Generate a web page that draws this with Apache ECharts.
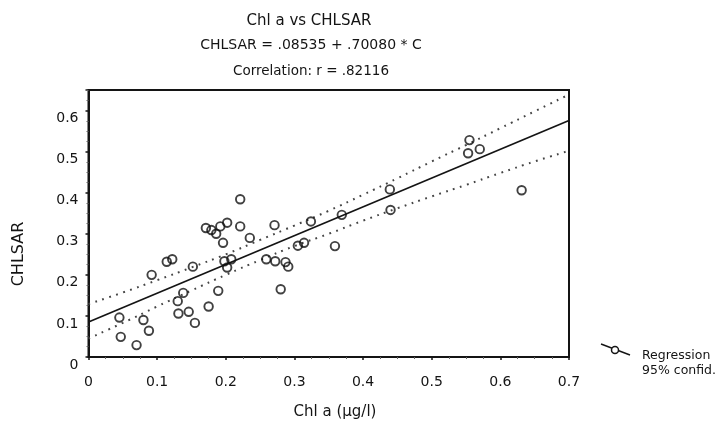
<!DOCTYPE html>
<html>
<head>
<meta charset="utf-8">
<script src="https://cdn.jsdelivr.net/npm/echarts@6/dist/echarts.min.js"></script>
<style>
html,body{margin:0;padding:0;background:#fff;}
#chart{width:722px;height:423px;}
</style>
</head>
<body>
<div id="chart"></div>
<script>
// ---- data ----
const chlA = [0.171,0.179,0.186,0.192,0.202,0.221,0.221,0.235,0.196,0.271,0.324,
  0.114,0.122,0.092,0.152,0.198,0.208,0.202,0.259,0.272,0.287,0.291,0.305,0.314,
  0.189,0.280,0.130,0.138,0.131,0.146,0.155,0.175,0.045,0.080,0.088,0.047,0.070,
  0.369,0.359,0.439,0.440,0.555,0.553,0.570,0.631];
const chlsar = [0.314,0.309,0.300,0.318,0.327,0.384,0.318,0.290,0.278,0.321,0.330,
  0.232,0.238,0.200,0.220,0.233,0.238,0.218,0.238,0.233,0.231,0.220,0.271,0.278,
  0.161,0.165,0.136,0.156,0.106,0.110,0.083,0.123,0.096,0.090,0.064,0.049,0.029,
  0.346,0.270,0.408,0.358,0.528,0.496,0.506,0.406];
const regX = [0, 0.7];
const regY = [0.0854, 0.5759];
const bandX = [0,0.05,0.1,0.15,0.2,0.25,0.3,0.35,0.4,0.45,0.5,0.55,0.6,0.65,0.7];
const bandUpper = [0.129,0.157,0.187,0.218,0.250,0.285,0.320,0.356,0.395,0.435,0.476,0.516,0.557,0.598,0.639];
const bandLower = [0.045,0.083,0.123,0.162,0.200,0.236,0.270,0.300,0.332,0.362,0.391,0.419,0.448,0.476,0.502];
const xTicks = ['0','0.1','0.2','0.3','0.4','0.5','0.6','0.7'];
const yTicks = ['0','0.1','0.2','0.3','0.4','0.5','0.6'];
const titleLines = ['Chl a vs CHLSAR','CHLSAR = .08535 + .70080 * C','Correlation: r = .82116'];
const legendLabels = ['Regression','95% confid.'];

const FONT = '"DejaVu Sans", "Liberation Sans", Arial, sans-serif';
const INK = '#141414';

const chart = echarts.init(document.getElementById('chart'), null, {renderer:'canvas'});

function tickLabel(list, pre){
  return function(v){
    const i = Math.round(v*10);
    if (Math.abs(v*10 - i) > 1e-6) return '';
    return list[i] !== undefined ? pre + list[i] : '';
  };
}

const option = {
  backgroundColor: '#fff',
  animation: false,
  grid: {left: 88.5, right: 153, top: 90, bottom: 66, show: true, borderColor: INK, borderWidth: 2, backgroundColor: 'transparent'},
  xAxis: [{
    type: 'value', min: 0, max: 0.7, interval: 0.1,
    axisLine: {show: true, onZero: false, lineStyle: {color: INK, width: 2}},
    axisTick: {show: true, inside: false, length: 3, lineStyle: {color: INK, width: 1.5}},
    minorTick: {show: true, splitNumber: 4, length: 2, lineStyle: {color: '#666'}},
    splitLine: {show: false},
    axisLabel: {formatter: tickLabel(xTicks, ''), color: INK, fontFamily: FONT, fontSize: 14, margin: 18}
  }],
  yAxis: [{
    type: 'value', min: 0, max: 0.65, interval: 0.1,
    axisLine: {show: true, onZero: false, lineStyle: {color: INK, width: 2}},
    axisTick: {show: true, inside: false, length: 3, lineStyle: {color: INK, width: 1.5}},
    minorTick: {show: true, splitNumber: 4, length: 2, lineStyle: {color: '#666'}},
    splitLine: {show: false},
    axisLabel: {formatter: tickLabel(yTicks, '\n'), color: INK, fontFamily: FONT, fontSize: 14, lineHeight: 16, margin: 10}
  }],
  series: [
    {
      type: 'line', name: 'upper', data: bandX.map((x,i)=>[x,bandUpper[i]]),
      smooth: true, showSymbol: false, silent: true,
      lineStyle: {color: '#444', width: 2, type: [1.8, 5.5]}, z: 2
    },
    {
      type: 'line', name: 'lower', data: bandX.map((x,i)=>[x,bandLower[i]]),
      smooth: true, showSymbol: false, silent: true,
      lineStyle: {color: '#444', width: 2, type: [1.8, 5.5]}, z: 2
    },
    {
      type: 'line', name: legendLabels[0], data: regX.map((x,i)=>[x,regY[i]]),
      showSymbol: false, silent: true,
      lineStyle: {color: INK, width: 1.7}, z: 3
    },
    {
      type: 'scatter', name: 'points', data: chlA.map((x,i)=>[x,chlsar[i]]),
      symbol: 'circle', symbolSize: 8.5,
      itemStyle: {color: 'rgba(255,255,255,0)', borderColor: '#111', borderWidth: 1.9}, z: 4
    }
  ],
  graphic: [
    {type:'text', x: 309, y: 21, style:{text: titleLines[0], font: '15px ' + FONT, fill: INK, textAlign:'center', textVerticalAlign:'middle'}},
    {type:'text', x: 311, y: 45, style:{text: titleLines[1], font: '14px ' + FONT, fill: INK, textAlign:'center', textVerticalAlign:'middle'}},
    {type:'text', x: 311, y: 71, style:{text: titleLines[2], font: '13.5px ' + FONT, fill: INK, textAlign:'center', textVerticalAlign:'middle'}},
    {type:'text', x: 335, y: 412, style:{text: 'Chl a (µg/l)', font: '15px ' + FONT, fill: INK, textAlign:'center', textVerticalAlign:'middle'}},
    {type:'text', x: 19, y: 254, rotation: Math.PI/2, style:{text: 'CHLSAR', font: '16px ' + FONT, fill: INK, textAlign:'center', textVerticalAlign:'middle'}},
    {type:'line', shape:{x1: 601, y1: 344, x2: 630, y2: 355}, style:{stroke: INK, lineWidth: 1.4}},
    {type:'circle', shape:{cx: 615, cy: 350, r: 3.5}, style:{fill:'#fff', stroke: INK, lineWidth: 1.5}},
    {type:'text', x: 642, y: 356, style:{text: legendLabels[0], font: '12.5px ' + FONT, fill: INK, textAlign:'left', textVerticalAlign:'middle'}},
    {type:'text', x: 642, y: 371, style:{text: legendLabels[1], font: '12.5px ' + FONT, fill: INK, textAlign:'left', textVerticalAlign:'middle'}}
  ]
};
chart.setOption(option);
</script>
</body>
</html>
